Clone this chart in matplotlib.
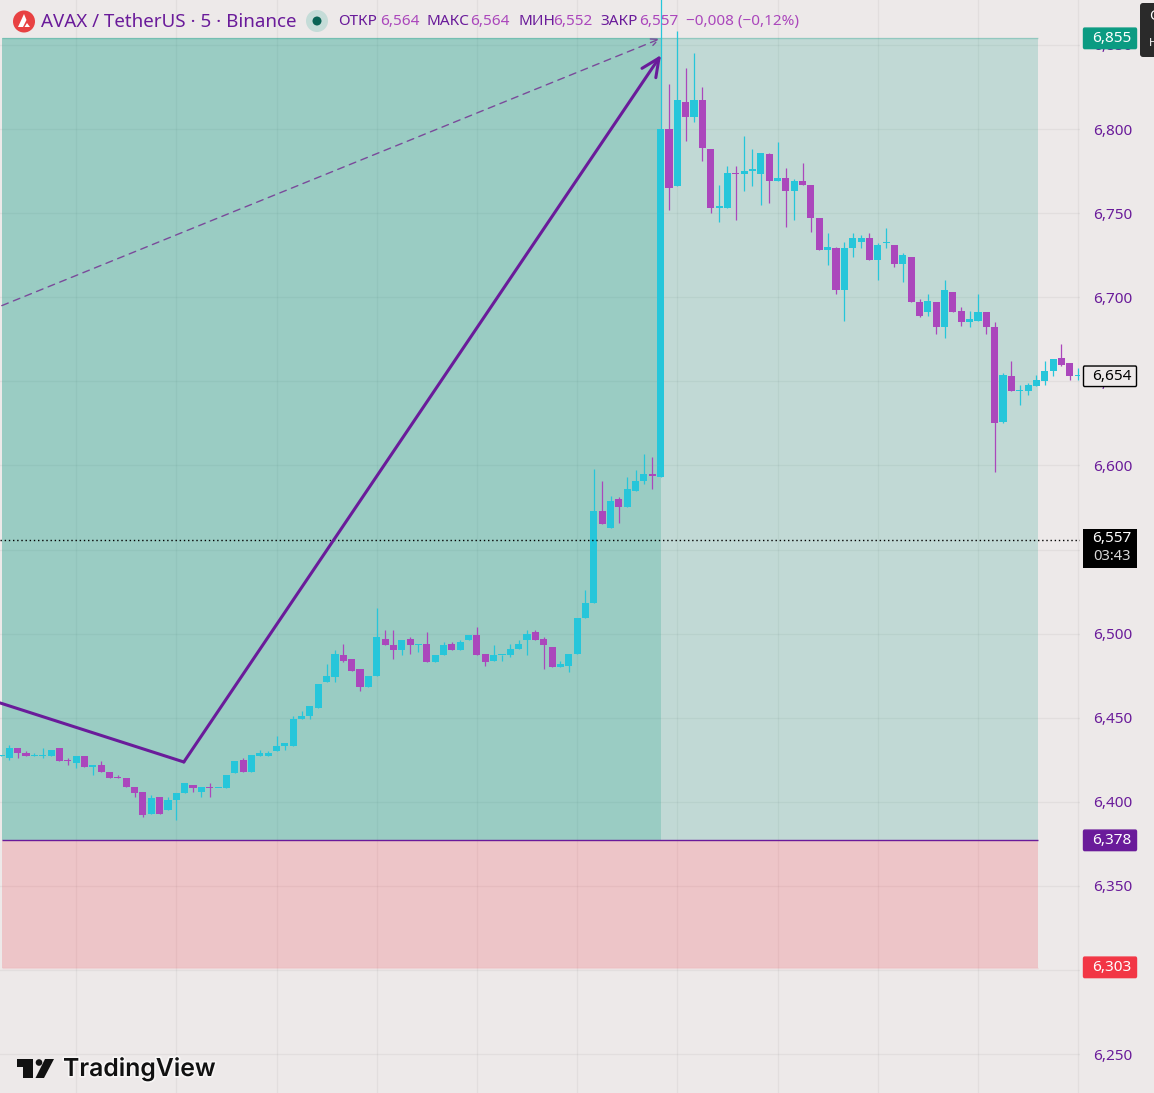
#!/usr/bin/env python3

import matplotlib.pyplot as plt
import matplotlib.patheffects as pe
import numpy as np
from matplotlib.patches import Circle, Polygon, Rectangle, FancyBboxPatch

# OHLC, in thousandths of a dollar
opens = [6427, 6426, 6432, 6429, 6427, 6427, 6427, 6432, 6425, 6423,
         6427, 6421, 6422, 6418, 6415, 6414, 6409, 6406, 6393, 6403,
         6395, 6401, 6405, 6410, 6406, 6409, 6408, 6408, 6417, 6425,
         6418, 6427, 6427, 6430, 6433, 6433, 6449, 6451, 6456, 6471,
         6474, 6487, 6485, 6479, 6468, 6475, 6497, 6493, 6490, 6497,
         6493, 6494, 6483, 6487, 6494, 6490, 6496, 6499, 6488, 6484,
         6487, 6487, 6491, 6496, 6501, 6497, 6492, 6480, 6481, 6488,
         6509, 6518, 6573, 6563, 6580, 6575, 6585, 6591, 6595, 6593,
         6800, 6766, 6816, 6807, 6817, 6788, 6753, 6753, 6774, 6773,
         6775, 6773, 6785, 6769, 6771, 6763, 6769, 6767, 6747, 6728,
         6729, 6704, 6729, 6733, 6735, 6722, 6732, 6731, 6720, 6724,
         6697, 6691, 6697, 6682, 6703, 6692, 6685, 6686, 6691, 6682,
         6626, 6653, 6644, 6644, 6647, 6650, 6656, 6664, 6661, 6653]
highs = [6428, 6434, 6432, 6430, 6429, 6432, 6431, 6432, 6426, 6427,
         6427, 6422, 6424, 6418, 6416, 6414, 6409, 6406, 6404, 6403,
         6403, 6405, 6411, 6410, 6409, 6411, 6408, 6416, 6424, 6426,
         6428, 6431, 6430, 6439, 6435, 6451, 6454, 6457, 6470, 6482,
         6490, 6494, 6485, 6479, 6475, 6515, 6502, 6502, 6496, 6498,
         6494, 6501, 6487, 6495, 6495, 6496, 6499, 6504, 6488, 6493,
         6487, 6494, 6496, 6502, 6502, 6498, 6492, 6484, 6488, 6509,
         6526, 6598, 6591, 6582, 6581, 6593, 6597, 6607, 6605, 6877,
         6827, 6858, 6836, 6845, 6825, 6788, 6767, 6778, 6778, 6796,
         6788, 6786, 6786, 6792, 6777, 6770, 6780, 6767, 6747, 6738,
         6730, 6733, 6738, 6737, 6738, 6732, 6741, 6731, 6726, 6724,
         6699, 6702, 6697, 6710, 6703, 6694, 6692, 6702, 6691, 6685,
         6655, 6662, 6648, 6649, 6654, 6662, 6663, 6672, 6661, 6658]
lows = [6427, 6425, 6426, 6427, 6427, 6426, 6427, 6424, 6422, 6420,
        6421, 6416, 6418, 6414, 6414, 6409, 6403, 6391, 6393, 6393,
        6395, 6389, 6405, 6406, 6403, 6403, 6408, 6408, 6417, 6418,
        6418, 6427, 6427, 6430, 6431, 6433, 6449, 6449, 6456, 6471,
        6471, 6483, 6478, 6466, 6468, 6475, 6493, 6485, 6487, 6488,
        6489, 6483, 6483, 6487, 6490, 6490, 6496, 6487, 6481, 6484,
        6484, 6486, 6491, 6487, 6496, 6479, 6480, 6480, 6477, 6488,
        6509, 6518, 6565, 6563, 6566, 6575, 6585, 6589, 6586, 6593,
        6752, 6766, 6793, 6804, 6781, 6750, 6745, 6753, 6746, 6763,
        6766, 6755, 6756, 6769, 6742, 6746, 6767, 6739, 6728, 6719,
        6702, 6686, 6724, 6729, 6722, 6710, 6729, 6718, 6709, 6697,
        6688, 6689, 6678, 6676, 6691, 6683, 6682, 6686, 6678, 6596,
        6625, 6644, 6636, 6642, 6647, 6648, 6653, 6659, 6651, 6651]
closes = [6428, 6432, 6429, 6427, 6428, 6428, 6431, 6424, 6424, 6427,
          6421, 6422, 6418, 6414, 6414, 6409, 6405, 6392, 6402, 6393,
          6401, 6405, 6411, 6408, 6409, 6408, 6408, 6416, 6424, 6418,
          6428, 6429, 6429, 6433, 6435, 6449, 6451, 6457, 6470, 6475,
          6488, 6484, 6478, 6468, 6475, 6498, 6493, 6490, 6496, 6493,
          6494, 6483, 6487, 6493, 6490, 6495, 6499, 6487, 6483, 6487,
          6487, 6491, 6494, 6500, 6496, 6493, 6480, 6482, 6488, 6509,
          6518, 6573, 6565, 6579, 6575, 6586, 6591, 6595, 6594, 6800,
          6765, 6817, 6807, 6817, 6789, 6753, 6754, 6774, 6773, 6775,
          6775, 6786, 6769, 6771, 6763, 6769, 6767, 6747, 6728, 6730,
          6704, 6729, 6735, 6735, 6722, 6731, 6732, 6720, 6725, 6697,
          6689, 6698, 6682, 6704, 6691, 6685, 6687, 6691, 6682, 6625,
          6654, 6644, 6645, 6648, 6651, 6656, 6663, 6660, 6653, 6654]

price_ticks = [6.25, 6.30, 6.35, 6.40, 6.45, 6.50, 6.55, 6.60, 6.65, 6.70, 6.75, 6.80, 6.85]
time_grid = [9, 21, 33, 45, 57, 69, 81, 93, 105, 117, 129]

# long position tool and the two hand drawn arrows
zone_top = 6.8541
entry = 6.3773
zone_bottom = 6.3014
zone_start = 0.13
zone_split = 79.05
zone_end = 124.2
last_price = 6.5557
wave_x = [-0.11, 21.9]
wave_y = [6.4588, 6.4237]
wave_tip = (79.05, 6.8440)
dash_from = (0.1, 6.6950)
dash_to = (78.95, 6.8537)

BG = '#ede9e9'
UP = '#26c6da'
DOWN = '#ab47bc'
INK = '#6a1b9a'
TEAL = '#089981'
FONT = 'Noto Sans'

plt.rcParams['font.family'] = [FONT, 'DejaVu Sans']

o = np.array(opens) / 1000
h = np.array(highs) / 1000
l = np.array(lows) / 1000
c = np.array(closes) / 1000
bars = np.arange(len(o))
colors = np.where(c >= o, UP, DOWN)

fig = plt.figure(figsize=(11.54, 10.93), dpi=100, facecolor=BG)
ax = fig.add_axes([0, 0, 1080 / 1154, 1], facecolor=BG)
ax.set_xlim(-0.114, 129.22)
ax.set_ylim(6.2269, 6.8767)

# grid
ax.set_xticks(time_grid)
ax.set_xticklabels([])
ax.set_yticks(price_ticks)
ax.set_yticklabels([f'{p:.3f}'.replace('.', ',') for p in price_ticks], weight=500)
ax.yaxis.tick_right()
ax.tick_params(axis='both', length=0)
ax.tick_params(axis='y', pad=9.6, labelsize=11, labelcolor=INK)
ax.grid(True, color='black', alpha=0.045, lw=1, zorder=0)
ax.set_axisbelow(True)
for s in ax.spines.values():
    s.set_visible(False)

# position zones
ax.add_patch(Rectangle((zone_start, entry), zone_split - zone_start, zone_top - entry,
                       fc=TEAL, alpha=0.36, lw=0, zorder=1))
ax.add_patch(Rectangle((zone_split, entry), zone_end - zone_split, zone_top - entry,
                       fc=TEAL, alpha=0.19, lw=0, zorder=1))
ax.add_patch(Rectangle((zone_start, zone_bottom), zone_end - zone_start, entry - zone_bottom,
                       fc='#f23645', alpha=0.2, lw=0, zorder=1))
ax.hlines(zone_top, zone_start, zone_end, color=TEAL, alpha=0.25, lw=1, zorder=1.5)
ax.hlines(entry, zone_start, zone_end, color=INK, lw=1, zorder=1.5)
ax.hlines(zone_bottom, zone_start, zone_end, color='#f23645', alpha=0.12, lw=1, zorder=1.5)

# candles
ax.vlines(bars, l, h, colors=colors, lw=0.9, zorder=2)
ax.bar(bars, np.maximum(np.abs(c - o), 0.001), bottom=np.minimum(o, c), width=0.85,
       color=colors, lw=0, zorder=2.1)

ax.axhline(last_price, color='black', lw=1, ls=(0, (1, 2)), zorder=2.2)

# drawn arrows
ax.plot(wave_x, wave_y, color=INK, lw=2.2, solid_capstyle='round', zorder=3)
ax.annotate('', xy=wave_tip, xytext=(wave_x[1], wave_y[1]),
            arrowprops=dict(arrowstyle='->,head_length=1.3,head_width=0.6', color=INK, lw=2.2,
                            shrinkA=0, shrinkB=0), zorder=3)
ax.annotate('', xy=dash_to, xytext=dash_from,
            arrowprops=dict(arrowstyle='->,head_length=0.55,head_width=0.25', color='#7a4a9a', lw=1,
                            ls=(0, (5, 4)), shrinkA=0, shrinkB=0), zorder=3)


def tag(price, text, fc, tc='white', ec=None):
    tr = ax.get_yaxis_transform()
    ax.add_patch(FancyBboxPatch((1083.5 / 1080, price - 0.0061), 53 / 1080, 0.0122, transform=tr,
                                boxstyle='round,pad=0,rounding_size=0.001', mutation_aspect=1,
                                fc=fc, ec=ec or fc, lw=1, clip_on=False, zorder=4))
    ax.text(1112 / 1080, price, text, transform=tr, color=tc, fontsize=11, weight=500,
            ha='center', va='center', clip_on=False, zorder=5)


tag(6.8539, '6,855', '#0b9b82')
tag(6.3771, '6,378', INK)
tag(6.3016, '6,303', '#f23645')
tag(6.6530, '6,654', BG, tc='black', ec='black')

tr = ax.get_yaxis_transform()
ax.add_patch(Rectangle((1083 / 1080, 6.5392), 54 / 1080, 0.0230, transform=tr, fc='black', lw=0,
                       clip_on=False, zorder=4))
ax.text(1112 / 1080, 6.5563, '6,557', transform=tr, color='white', fontsize=11, weight=500,
        ha='center', va='center', zorder=5)
ax.text(1112 / 1080, 6.5456, '03:43', transform=tr, color='#d8d8d8', fontsize=10.6,
        ha='center', va='center', zorder=5)

# header, logo and cropped tooltip sit on a pixel overlay
top = fig.add_axes([0, 0, 1, 1], facecolor='none')
top.set_xlim(0, 1154)
top.set_ylim(1093, 0)
top.axis('off')

top.add_patch(Circle((24, 21.5), 11, fc='#e84142', lw=0))
top.add_patch(Polygon([(24, 14), (18, 27), (23, 27), (26.5, 20)], fc='white', lw=0))
top.add_patch(Polygon([(27, 23), (24.5, 27), (30, 27)], fc='white', lw=0))
top.text(41, 22, 'AVAX / TetherUS · 5 · Binance', color=INK, fontsize=13.5, va='center')
top.add_patch(Circle((317, 21), 11, fc='#c5dcd8', lw=0))
top.add_patch(Circle((317, 21), 4.5, fc='#0a6355', lw=0))

header = [(338, 'ОТКР', INK), (380, '6,564', DOWN), (427, 'МАКС', INK), (470, '6,564', DOWN),
          (518, 'МИН', INK), (553, '6,552', DOWN), (600, 'ЗАКР', INK), (639, '6,557', DOWN),
          (686, '−0,008 (−0,12%)', DOWN)]
for x, txt, col in header:
    top.text(x, 21.5, txt, color=col, fontsize=11, va='center')

top.add_patch(Polygon([(17, 1059), (33, 1059), (33, 1078), (23, 1078), (23, 1067), (17, 1067)], fc='#111111', lw=0))
top.add_patch(Circle((39, 1062.5), 3.3, fc='#111111', lw=0))
top.add_patch(Polygon([(45, 1059), (54, 1059), (44, 1078), (35.5, 1078)], fc='#111111', lw=0))
top.text(63, 1068.5, 'TradingView', color='#111111', fontsize=17.8, weight=600, family='Inter', va='center',
         path_effects=[pe.withStroke(linewidth=2.5, foreground='#f7f5f5')])

top.add_patch(FancyBboxPatch((1140, 3), 40, 54, boxstyle='round,pad=0,rounding_size=3', fc='#2a2a2a', lw=0))
top.text(1149, 16, 'G', color='white', fontsize=10.5, weight=600, va='center')
top.text(1149, 43, 'Н', color='white', fontsize=8, weight=600, va='center')

fig.savefig('out.png', dpi=100, facecolor=BG)
plt.close()
